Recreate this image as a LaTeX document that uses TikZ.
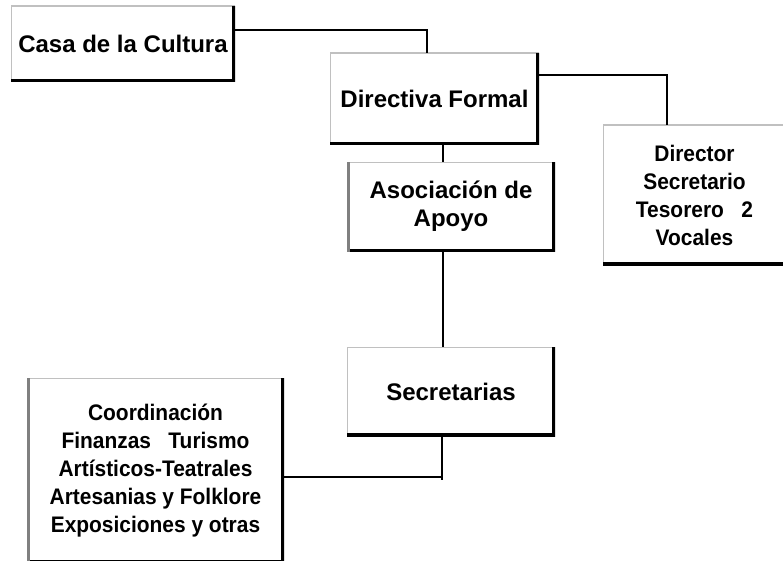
\documentclass[tikz,border=0pt]{standalone}
\usepackage{fontspec}
\setmainfont{Liberation Sans}
\newfontfamily\narrowfont[FakeStretch=0.93]{Liberation Sans}
\definecolor{edgegray}{HTML}{C0C0C0}
\definecolor{darkedge}{HTML}{808080}
\newcommand{\lightedges}{%
  \draw[line width=2pt, edgegray] (path picture bounding box.south west) |- (path picture bounding box.north east);
  \draw[line width=6pt, black] (path picture bounding box.north east) |- (path picture bounding box.south west);}
\newcommand{\darkleftedge}{%
  \draw[line width=6pt, darkedge] (path picture bounding box.south west) -- (path picture bounding box.north west);}
\begin{document}
\begin{tikzpicture}[x=1pt,y=-1pt,
  card/.style={fill=white, inner sep=0pt, align=center,
    font=\bfseries\fontsize{24}{28}\selectfont,
    path picture={\lightedges}},
  cardshade/.style={fill=white, inner sep=0pt, align=center,
    font=\bfseries\fontsize{24}{28}\selectfont,
    path picture={\lightedges\darkleftedge}},
  smalltext/.style={font=\narrowfont\bfseries\fontsize{22.5}{28}\selectfont},
  link/.style={draw=black, line width=1.5pt}
]
\useasboundingbox (0,0) rectangle (783,561);

\node[card, minimum width=224pt, minimum height=76pt] (casa) at (123,44) {Casa de la Cultura};
\node[card, minimum width=209pt, minimum height=92pt] (dirf) at (434.5,99) {Directiva Formal};
\node[card, smalltext, minimum width=183pt, minimum height=140pt] (dtor) at (694.5,195)
  {Director\\Secretario\\Tesorero\ \ \ 2\\Vocales};
\node[cardshade, minimum width=208pt, minimum height=89pt, text depth=6pt] (asoc) at (451,207) {Asociación de\\Apoyo};
\node[card, minimum width=208pt, minimum height=89pt] (secr) at (451,391.5) {Secretarias};
\node[cardshade, smalltext, minimum width=257pt, minimum height=185pt] (coord) at (155.5,470.5)
  {Coordinación\\Finanzas\ \ \ Turismo\\Artísticos-Teatrales\\Artesanias y Folklore\\Exposiciones y otras};

\coordinate (k1) at (427,30);
\coordinate (k2) at (667,75);
\coordinate (k3) at (443,0);
\coordinate (k4) at (442,477);
\coordinate (k5) at (442,480);

\draw[link] (casa.east |- k1) -| (dirf.north -| k1);
\draw[link] (dirf.east |- k2) -| (dtor.north -| k2);
\draw[link] (dirf.south -| k3) -- (asoc.north -| k3);
\draw[link] (asoc.south -| k3) -- (secr.north -| k3);
\draw[link] (secr.south -| k4) -- (k5);
\draw[link] (coord.east |- k4) -- (k4);
\end{tikzpicture}
\end{document}
